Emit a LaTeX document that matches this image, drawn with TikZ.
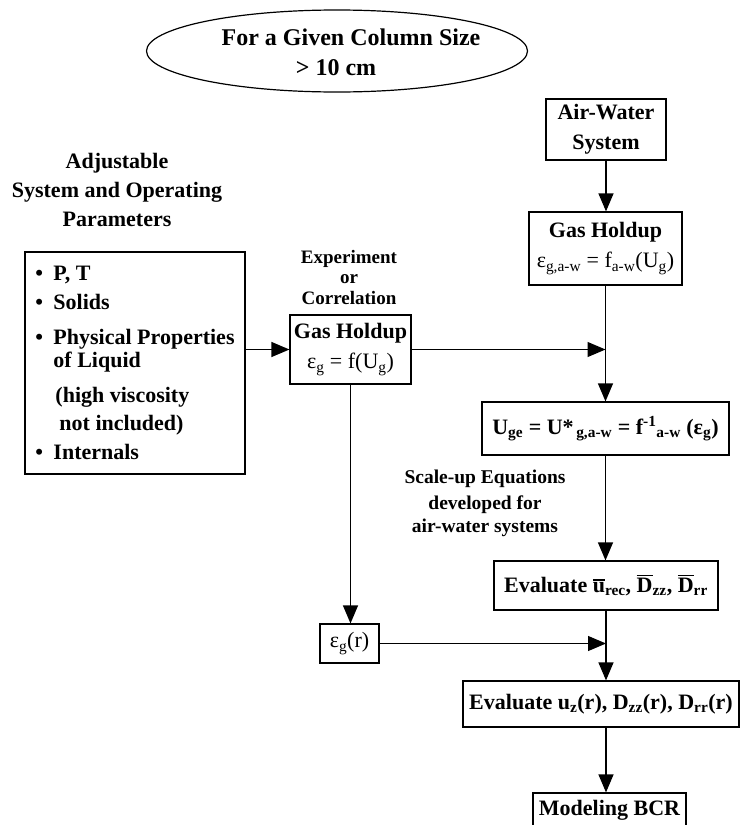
\documentclass[tikz,border=0pt]{standalone}
\usepackage{fontspec}
\setmainfont{Liberation Serif}
\usetikzlibrary{arrows.meta,shapes.geometric}
\newcommand\sbs[1]{\textsubscript{#1}}
\newcommand\sps[1]{\textsuperscript{#1}}
\newcommand\ovl[1]{\vbox{\hrule height 1.2pt\kern1.8pt\hbox{#1}}}
\newcommand\bul{\makebox[18pt][l]{•}}
\begin{document}
\begin{tikzpicture}[x=1pt,y=-1pt,
  bx/.style={draw, line width=1.2pt, inner sep=0pt, align=center},
  big/.style={font=\fontsize{22}{30}\selectfont\bfseries},
  mid/.style={font=\fontsize{19}{20}\selectfont\bfseries},
  lbl/.style={inner sep=0pt, align=center},
  arr/.style={-{Triangle[length=18pt,width=15pt]}, line width=1.2pt},
]
\useasboundingbox (0,0) rectangle (740,825);

% title ellipse
\node[draw, ellipse, line width=1.2pt, minimum width=381pt, minimum height=82pt, inner sep=0pt] (title) at (337,51) {};
\node[font=\fontsize{24}{30}\selectfont\bfseries, anchor=base, inner sep=0pt] (t1) at (351,45) {For a Given Column Size};
\node[font=\fontsize{24}{30}\selectfont\bfseries, anchor=base, inner sep=0pt] (t2) at (336,75) {> 10 cm};

% left column
\node[lbl, big] (adj) at (117,190) {Adjustable\\[-1pt]System and Operating\\[-1pt]Parameters};
\node[bx, big, align=left, minimum width=220pt, minimum height=222pt,
      font=\fontsize{22}{23}\selectfont\bfseries] (params) at (135,363)
  {\bul P, T\\[6pt]
   \bul Solids\\[12pt]
   \bul Physical Properties\\
   \hspace*{18pt}of Liquid\\[12pt]
   \hspace*{20pt}(high viscosity\\[5pt]
   \hspace*{24pt}not included)\\[6pt]
   \bul Internals};

% middle column
\node[lbl, mid] (exp) at (349,277) {Experiment\\[0pt]or\\[1pt]Correlation};
\node[bx, big, minimum width=121pt, minimum height=69pt] (ghL) at (350.5,349.5)
  {Gas Holdup\\{\mdseries ε\sbs{g} = f(U\sbs{g})}};
\node[bx, big, minimum width=59pt, minimum height=39pt] (epsr) at (349.5,643.5)
  {\mdseries ε\sbs{g}(r)};

% right column
\node[bx, big, minimum width=120pt, minimum height=61pt] (aw) at (606,129.5)
  {Air-Water\\System};
\node[bx, big, minimum width=153pt, minimum height=73pt] (ghR) at (605.5,248.5)
  {Gas Holdup\\{\mdseries ε\sbs{g,a-w} = f\sbs{a-w}(U\sbs{g})}};
\node[bx, big, minimum width=247pt, minimum height=53pt] (uge) at (605.5,428.5)
  {U\sbs{ge} = U*\sbs{\,g,a-w} = f\sps{-1}\sbs{a-w} (ε\sbs{g})};
\node[lbl, font=\fontsize{19.5}{26}\selectfont\bfseries] (scale) at (485,503)
  {Scale-up Equations\\developed for\\[-3pt]air-water systems};
\node[bx, big, minimum width=224pt, minimum height=49pt] (evalbar) at (606,585.5)
  {Evaluate \ovl{u}\sbs{rec}, \ovl{D}\sbs{zz}, \ovl{D}\sbs{rr}};
\node[bx, big, minimum width=276pt, minimum height=46pt] (evalr) at (601,704)
  {Evaluate u\sbs{z}(r), D\sbs{zz}(r), D\sbs{rr}(r)};
\node[draw, line width=1.2pt, big, minimum width=153pt, inner xsep=0pt, inner ysep=5pt,
      text height=17pt, text depth=30pt, anchor=base] (bcr) at (609.5,815) {Modeling BCR};

% connectors
\draw[arr] (aw.south) -- (aw.south |- ghR.north);
\draw[arr] (ghR.south) -- (ghR.south |- uge.north);
\draw[arr] (params.east |- ghL.west) -- (ghL.west);
\draw[arr] (ghL.east) -- (ghR.south |- ghL.east);
\draw[arr] (ghL.south) -- (ghL.south |- epsr.north);
\draw[arr] (uge.south) -- (uge.south |- evalbar.north);
\draw[arr] (epsr.east) -- (evalbar.south |- epsr.east);
\draw[arr] (evalbar.south) -- (evalbar.south |- evalr.north);
\draw[arr] (evalbar.south |- evalr.south) -- (evalbar.south |- bcr.north);
\end{tikzpicture}
\end{document}
